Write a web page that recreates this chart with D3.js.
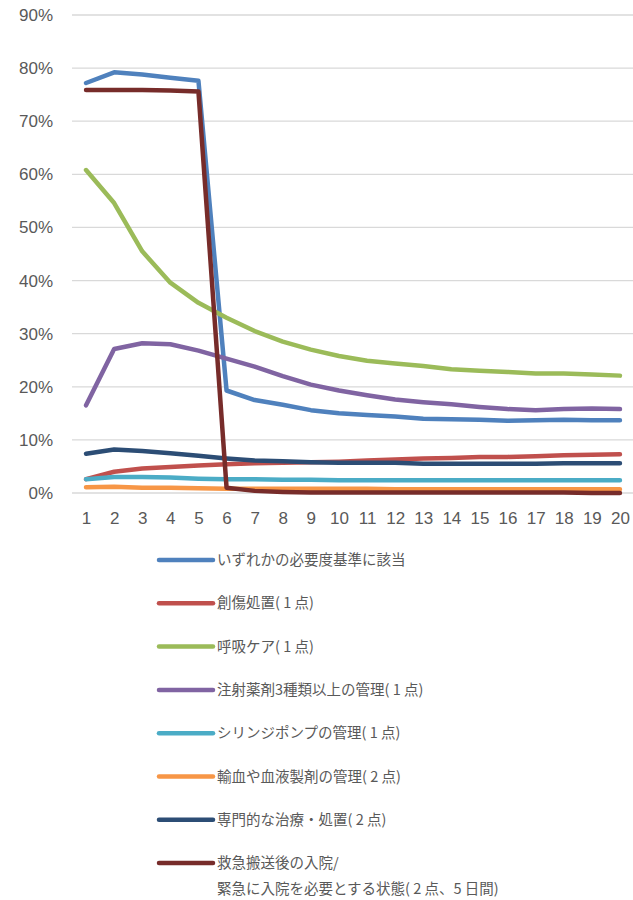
<!DOCTYPE html>
<html>
<head>
<meta charset="utf-8">
<script src="https://cdn.jsdelivr.net/npm/d3@7"></script>
<style>
  body { margin: 0; background: #fff; }
  text { fill: #595959; }
</style>
</head>
<body>
<script>
const days = d3.range(1, 21);

const names = [
    'いずれかの必要度基準に該当',
    '創傷処置( 1 点)',
    '呼吸ケア( 1 点)',
    '注射薬剤3種類以上の管理( 1 点)',
    'シリンジポンプの管理( 1 点)',
    '輸血や血液製剤の管理( 2 点)',
    '専門的な治療・処置( 2 点)',
    '救急搬送後の入院/\n緊急に入院を必要とする状態( 2 点、5 日間)'
];

const colors = ['#4F81BD', '#C0504D', '#9BBB59', '#8064A2', '#4BACC6', '#F79646', '#2C4D75', '#772C2A'];

// values in percent, day 1..20
const anyCriteria = [77.2, 79.2, 78.8, 78.2, 77.6, 19.3, 17.5, 16.6, 15.6, 15.0, 14.7, 14.4, 14.0, 13.9, 13.8, 13.6, 13.7, 13.8, 13.7, 13.7];
const woundCare   = [2.6, 4.0, 4.6, 4.9, 5.2, 5.4, 5.6, 5.7, 5.8, 5.9, 6.1, 6.3, 6.5, 6.6, 6.8, 6.8, 6.9, 7.1, 7.2, 7.3];
const respCare    = [60.8, 54.6, 45.5, 39.6, 35.8, 33.0, 30.5, 28.5, 27.0, 25.8, 24.9, 24.4, 23.9, 23.3, 23.0, 22.8, 22.5, 22.5, 22.3, 22.1];
const injection   = [16.5, 27.1, 28.2, 28.0, 26.8, 25.3, 23.8, 22.0, 20.4, 19.3, 18.4, 17.6, 17.1, 16.7, 16.2, 15.8, 15.6, 15.8, 15.9, 15.8];
const syringe     = [2.6, 3.0, 3.0, 2.9, 2.7, 2.6, 2.6, 2.5, 2.5, 2.4, 2.4, 2.4, 2.4, 2.4, 2.4, 2.4, 2.4, 2.4, 2.4, 2.4];
const transfusion = [1.1, 1.2, 1.0, 1.0, 0.9, 0.8, 0.8, 0.8, 0.8, 0.8, 0.8, 0.7, 0.7, 0.7, 0.7, 0.7, 0.7, 0.7, 0.7, 0.7];
const specialist  = [7.4, 8.2, 7.9, 7.5, 7.0, 6.5, 6.1, 6.0, 5.8, 5.7, 5.7, 5.7, 5.5, 5.5, 5.5, 5.5, 5.5, 5.6, 5.6, 5.6];
const emergency   = [75.9, 75.9, 75.9, 75.8, 75.6, 1.0, 0.4, 0.2, 0.1, 0.1, 0.1, 0.1, 0.1, 0.1, 0.1, 0.1, 0.1, 0.1, 0.0, 0.0];

const series = [anyCriteria, woundCare, respCare, injection, syringe, transfusion, specialist, emergency];

const yTicks = d3.range(0, 91, 10);

const width = 633, height = 900;
const plot = { left: 72, right: 634, top: 15, bottom: 493 };

const svg = d3.select('body').append('svg')
    .attr('width', width)
    .attr('height', height)
    .style('font-family', '"DejaVu Sans", "Noto Sans CJK JP", sans-serif');

const x = d3.scalePoint()
    .domain(days)
    .range([plot.left, plot.right])
    .padding(0.5);

const y = d3.scaleLinear()
    .domain([0, 90])
    .range([plot.bottom, plot.top]);

// gridlines
svg.append('g')
    .selectAll('line')
    .data(yTicks)
    .enter().append('line')
    .attr('x1', plot.left)
    .attr('x2', plot.right)
    .attr('y1', d => y(d))
    .attr('y2', d => y(d))
    .attr('stroke', '#d9d9d9')
    .attr('stroke-width', 1.3);

// y axis labels
const yAxis = svg.append('g')
    .attr('transform', `translate(${plot.left - 19},0)`)
    .call(d3.axisLeft(y).tickValues(yTicks).tickFormat(d => d + '%').tickSize(0).tickPadding(0));
yAxis.select('.domain').remove();
yAxis.selectAll('text')
    .style('font-size', '17px')
    .style('fill', '#595959');

// x axis labels
const xAxis = svg.append('g')
    .attr('transform', `translate(0,${plot.bottom + 19})`)
    .call(d3.axisBottom(x).tickSize(0).tickPadding(0));
xAxis.select('.domain').remove();
xAxis.selectAll('text')
    .style('font-size', '17px')
    .style('fill', '#595959');

// lines
const line = d3.line()
    .x((d, i) => x(days[i]))
    .y(d => y(d));

svg.append('g')
    .selectAll('path')
    .data(series)
    .enter().append('path')
    .attr('d', line)
    .attr('fill', 'none')
    .attr('stroke', (d, i) => colors[i])
    .attr('stroke-width', 4.5)
    .attr('stroke-linejoin', 'round')
    .attr('stroke-linecap', 'round');

// legend
const legend = svg.append('g')
    .selectAll('g')
    .data(names)
    .enter().append('g')
    .attr('transform', (d, i) => `translate(159,${560 + i * 43.3})`);

legend.append('line')
    .attr('x1', 0)
    .attr('x2', 54)
    .attr('stroke', (d, i) => colors[i])
    .attr('stroke-width', 4.5)
    .attr('stroke-linecap', 'round');

legend.append('text')
    .attr('x', 58)
    .attr('y', 0)
    .style('font-family', '"Noto Sans CJK JP", sans-serif')
    .style('font-size', '14.5px')
    .each(function (d) {
        d.split('\n').forEach((t, j) => {
            d3.select(this).append('tspan')
                .attr('x', 58)
                .attr('dy', j === 0 ? '0.35em' : 26)
                .text(t);
        });
    });
</script>
</body>
</html>
